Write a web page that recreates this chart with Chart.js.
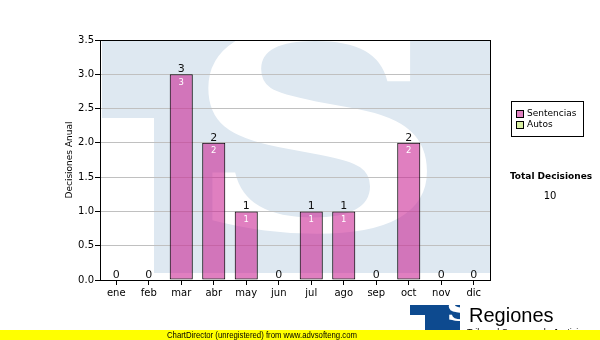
<!DOCTYPE html>
<html>
<head>
<meta charset="utf-8">
<script src="https://cdn.jsdelivr.net/npm/chart.js@4"></script>
<style>
  html, body { margin: 0; padding: 0; background: #fff; }
  canvas { display: block; }
</style>
</head>
<body>
<canvas id="c" width="600" height="340"></canvas>
<script>
// ---- data ----
const months = ['ene', 'feb', 'mar', 'abr', 'may', 'jun', 'jul', 'ago', 'sep', 'oct', 'nov', 'dic'];
const sentencias = [0, 0, 3, 2, 1, 0, 1, 1, 0, 2, 0, 0];
const autos = [0, 0, 0, 0, 0, 0, 0, 0, 0, 0, 0, 0];
const seriesNames = ['Sentencias', 'Autos'];
const yAxisTitle = 'Decisiones Anual';
const totalTitle = 'Total Decisiones';
const totalValue = sentencias.reduce((a, b) => a + b, 0) + autos.reduce((a, b) => a + b, 0);
const footerText = 'ChartDirector (unregistered) from www.advsofteng.com';
const brandText = 'Regiones';
const brandSub = 'Tribunal Supremo de Justicia';

Chart.defaults.font.family = 'DejaVu Sans';
Chart.defaults.color = '#000';

const FILL = 'rgba(201,35,146,0.58)';
const LEG_PINK = '#e080c0';
const LEG_GREEN = '#d9f0a3';

function drawGlyphInBox(ctx, ch, font, x0, y0, x1, y1, color) {
  ctx.save();
  ctx.font = font;
  const m = ctx.measureText(ch);
  const gw = m.actualBoundingBoxLeft + m.actualBoundingBoxRight;
  const gh = m.actualBoundingBoxAscent + m.actualBoundingBoxDescent;
  ctx.translate(x0, y0);
  ctx.scale((x1 - x0) / gw, (y1 - y0) / gh);
  ctx.fillStyle = color;
  ctx.textBaseline = 'alphabetic';
  ctx.textAlign = 'left';
  ctx.fillText(ch, m.actualBoundingBoxLeft, m.actualBoundingBoxAscent);
  ctx.restore();
}

const watermark = {
  id: 'watermark',
  beforeDraw(chart) {
    const { ctx, chartArea: a } = chart;
    ctx.save();
    ctx.beginPath();
    ctx.rect(a.left, a.top, a.right - a.left, a.bottom - a.top);
    ctx.clip();
    ctx.fillStyle = '#dee8f1';
    ctx.fillRect(a.left + 2, a.top + 1, a.right - a.left - 2, a.bottom - a.top - 8);
    ctx.fillStyle = '#fff';
    ctx.fillRect(a.left, a.top + 78, 54, a.bottom - a.top);
    drawGlyphInBox(ctx, 'S', 'bold 200px "DejaVu Serif"', a.left + 108, a.top - 16, a.left + 328, a.top + 194, '#fff');
    ctx.restore();
  }
};

const extras = {
  id: 'extras',
  afterDatasetsDraw(chart) {
    const { ctx } = chart;
    const meta = chart.getDatasetMeta(0);
    ctx.save();
    ctx.textAlign = 'center';
    meta.data.forEach((bar, i) => {
      const v = sentencias[i];
      ctx.fillStyle = '#111';
      ctx.font = '11px "DejaVu Sans"';
      ctx.textBaseline = 'alphabetic';
      ctx.fillText(String(v), bar.x, bar.y - 2);
      if (v > 0) {
        ctx.fillStyle = '#fff';
        ctx.font = '8.5px "DejaVu Sans"';
        ctx.textBaseline = 'top';
        ctx.fillText(String(v), bar.x, bar.y + 4);
      }
    });
    ctx.restore();
  },
  afterDraw(chart) {
    const { ctx, chartArea: a } = chart;
    ctx.save();
    // plot frame
    ctx.strokeStyle = '#000';
    ctx.lineWidth = 1;
    ctx.strokeRect(a.left + 0.5, a.top + 0.5, a.right - a.left, a.bottom - a.top);

    // legend box
    const lx = a.right + 21, ly = 101;
    ctx.fillStyle = '#fff';
    ctx.fillRect(lx, ly, 72, 35);
    ctx.strokeRect(lx + 0.5, ly + 0.5, 72, 35);
    const colors = [LEG_PINK, LEG_GREEN];
    ctx.font = '9px "DejaVu Sans"';
    ctx.textBaseline = 'middle';
    ctx.textAlign = 'left';
    seriesNames.forEach((n, i) => {
      const y = ly + 13 + i * 11;
      ctx.fillStyle = colors[i];
      ctx.fillRect(lx + 5, y - 4, 8, 8);
      ctx.strokeRect(lx + 5.5, y - 3.5, 7, 7);
      ctx.fillStyle = '#000';
      ctx.fillText(n, lx + 16, y);
    });

    // totals
    ctx.textAlign = 'center';
    ctx.font = 'bold 9px "DejaVu Sans"';
    ctx.fillText(totalTitle, 551, 177);
    ctx.font = '10px "DejaVu Sans"';
    ctx.fillText(String(totalValue), 550, 196);

    // logo block
    ctx.fillStyle = '#0d4a8f';
    ctx.fillRect(410, 305, 50, 25);
    ctx.fillStyle = '#fff';
    ctx.fillRect(410, 315, 15, 15);
    drawGlyphInBox(ctx, 'S', 'bold 60px "DejaVu Serif"', 433, 307, 459, 329, '#fff');

    // brand text
    ctx.fillStyle = '#000';
    ctx.textAlign = 'left';
    ctx.textBaseline = 'alphabetic';
    ctx.font = '9px "Liberation Sans"';
    ctx.fillText(brandSub, 467, 335);
    ctx.font = '20px "Liberation Sans"';
    ctx.fillText(brandText, 469, 322);

    // footer band
    ctx.fillStyle = '#ffff00';
    ctx.fillRect(0, 330, 600, 10);
    ctx.fillStyle = '#000';
    ctx.textAlign = 'center';
    ctx.textBaseline = 'middle';
    ctx.font = '9px "Liberation Sans"';
    ctx.fillText(footerText, 262, 335.5, 190);
    ctx.restore();
  }
};

new Chart(document.getElementById('c'), {
  type: 'bar',
  data: {
    labels: months,
    datasets: [
      {
        label: seriesNames[0],
        data: sentencias,
        backgroundColor: FILL,
        borderColor: '#000',
        borderWidth: 1,
        borderSkipped: false,
        barPercentage: 0.71,
        categoryPercentage: 1.0
      },
      {
        label: seriesNames[1],
        data: autos,
        backgroundColor: LEG_GREEN,
        borderColor: '#000',
        borderWidth: 0,
        barPercentage: 0.71,
        categoryPercentage: 1.0
      }
    ]
  },
  options: {
    responsive: false,
    animation: false,
    events: [],
    layout: { padding: { top: 40, right: 110, bottom: 0, left: 64 } },
    plugins: {
      legend: { display: false },
      tooltip: { enabled: false }
    },
    scales: {
      x: {
        stacked: true,
        afterFit(s) { s.height = 60; },
        grid: { display: true, drawOnChartArea: false, offset: false, tickLength: 5, tickColor: '#000' },
        border: { display: true, color: '#000' },
        ticks: { font: { size: 10 }, color: '#000', padding: 2, maxRotation: 0 }
      },
      y: {
        stacked: true,
        min: 0,
        max: 3.5,
        afterFit(s) { s.width = 36; },
        grid: { color: '#c0c0c0', tickLength: 5, tickColor: '#000' },
        border: { display: true, color: '#000' },
        ticks: {
          stepSize: 0.5,
          font: { size: 10 },
          color: '#000',
          padding: 1,
          callback: (v) => Number(v).toFixed(1)
        },
        title: { display: true, text: yAxisTitle, font: { size: 9 }, color: '#000', padding: 0 }
      }
    }
  },
  plugins: [watermark, extras]
});
</script>
</body>
</html>
